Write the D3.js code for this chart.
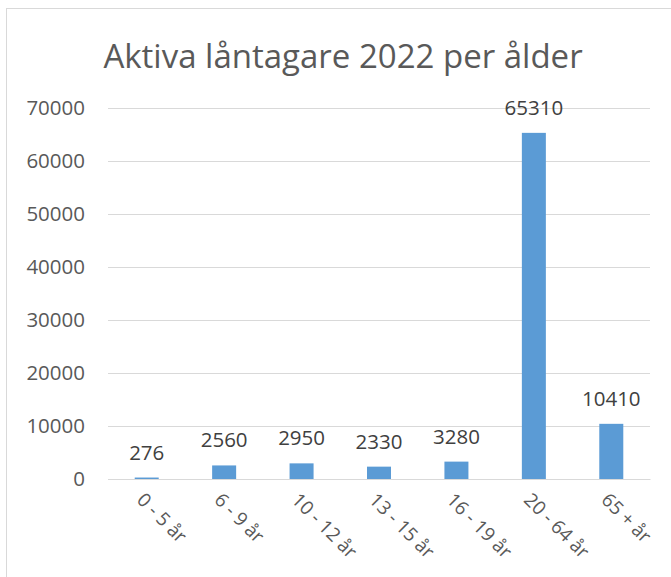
<!DOCTYPE html>
<html>
<head>
<meta charset="utf-8">
<script src="https://cdn.jsdelivr.net/npm/d3@7"></script>
<style>
  body { margin: 0; background: #fff; }
  text { font-family: "Open Sans", "Liberation Sans", sans-serif; }
</style>
</head>
<body>
<div id="chart"></div>
<script>
const categories = ['0 - 5 år', '6 - 9 år', '10 - 12 år', '13 - 15 år', '16 - 19 år', '20 - 64 år', '65 + år'];
const values = [276, 2560, 2950, 2330, 3280, 65310, 10410];
const yTicks = [0, 10000, 20000, 30000, 40000, 50000, 60000, 70000];

const width = 671;
const height = 577;
const plot = { left: 108, right: 650, top: 108, bottom: 479 };

const svg = d3.select('#chart').append('svg')
  .attr('width', width)
  .attr('height', height);

// Chart frame
svg.append('rect')
  .attr('x', 6.5)
  .attr('y', 8.5)
  .attr('width', 720)
  .attr('height', 620)
  .attr('fill', 'none')
  .attr('stroke', '#d9d9d9');

// Title
svg.append('text')
  .attr('x', 343)
  .attr('y', 68)
  .attr('text-anchor', 'middle')
  .attr('font-size', 33)
  .attr('fill', '#595959')
  .text('Aktiva låntagare 2022 per ålder');

const x = d3.scaleBand()
  .domain(categories)
  .range([plot.left, plot.right])
  .paddingInner(0.69)
  .paddingOuter(0.345);

const y = d3.scaleLinear()
  .domain([0, 70000])
  .range([plot.bottom, plot.top]);

// Gridlines and y labels
const yAxis = svg.append('g')
  .attr('transform', `translate(${plot.left},0)`)
  .call(d3.axisLeft(y).tickValues(yTicks).tickFormat(d3.format('d'))
    .tickSize(-(plot.right - plot.left)).tickPadding(23));
yAxis.select('.domain').remove();
yAxis.selectAll('.tick line')
  .attr('stroke', '#d9d9d9');
yAxis.selectAll('.tick text')
  .attr('font-size', 20.5)
  .attr('fill', '#595959')
  .attr('font-family', '"Open Sans", sans-serif');

// Bars
svg.append('g').selectAll('rect')
  .data(values)
  .join('rect')
  .attr('x', (d, i) => x(categories[i]))
  .attr('y', d => y(d))
  .attr('width', x.bandwidth())
  .attr('height', d => y(0) - y(d))
  .attr('fill', '#5b9bd5');

// Data labels
svg.append('g').selectAll('text')
  .data(values)
  .join('text')
  .attr('x', (d, i) => x(categories[i]) + x.bandwidth() / 2)
  .attr('y', d => y(d) - 18)
  .attr('text-anchor', 'middle')
  .attr('font-size', 20.5)
  .attr('fill', '#404040')
  .text(d => d);

// X axis labels
const xAxis = svg.append('g')
  .attr('transform', `translate(0,${plot.bottom})`)
  .call(d3.axisBottom(x).tickSize(0));
xAxis.select('.domain').attr('stroke', '#d9d9d9');
xAxis.selectAll('.tick text')
  .attr('font-size', 19)
  .attr('fill', '#595959')
  .attr('font-family', '"Open Sans", sans-serif')
  .attr('text-anchor', 'start')
  .attr('dy', null)
  .attr('y', 0)
  .attr('transform', 'translate(-11,22) rotate(45)');
</script>
</body>
</html>
